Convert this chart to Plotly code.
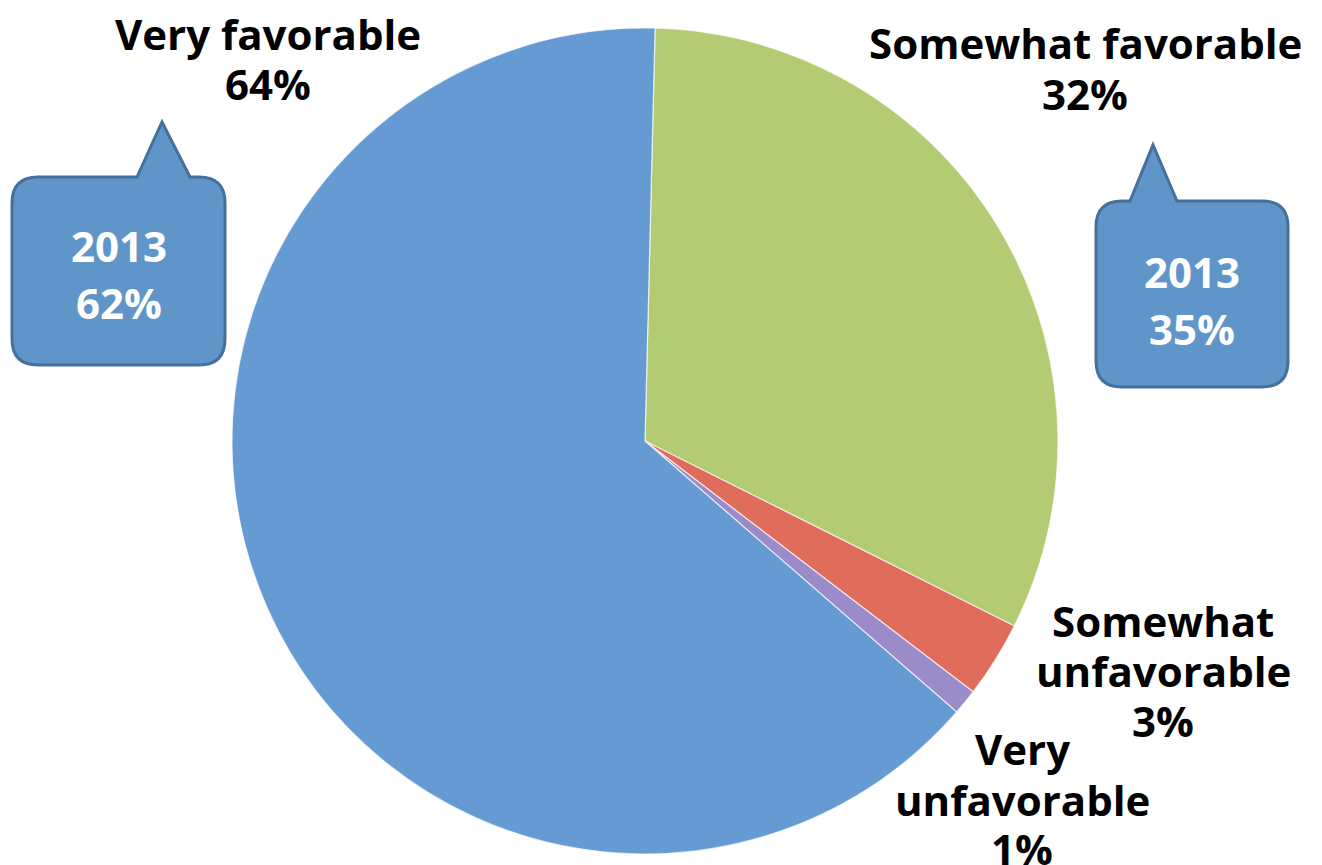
import plotly.graph_objects as go

# Survey results (current year), clockwise from 12 o'clock
categories = ["Somewhat favorable", "Somewhat unfavorable", "Very unfavorable", "Very favorable"]
values = [32, 3, 1, 64]
colors = ["#B3CB73", "#E06C5C", "#9C8BC9", "#659AD2"]

# Prior-year comparison shown in the callouts
prior_year = "2013"
prior_categories = ["Very favorable", "Somewhat favorable"]
prior_values = [62, 35]

W, H = 1322, 865
cx, cy, r = 645, 441, 413

fig = go.Figure()

fig.add_trace(go.Pie(
    labels=categories,
    values=values,
    sort=False,
    direction="clockwise",
    rotation=1.4,
    marker=dict(colors=colors, line=dict(color="rgba(255,255,255,0.7)", width=1.2)),
    textinfo="none",
    hoverinfo="label+percent",
    showlegend=False,
    domain=dict(x=[(cx - r) / W, (cx + r) / W],
                y=[(H - cy - r) / H, (H - cy + r) / H]),
))

FONT = "Open Sans"
FSIZE = 42


def text_block(x, lines, ys, color):
    """Centered multi-line bold text, one annotation per line for tight leading."""
    for line, y in zip(lines, ys):
        fig.add_annotation(
            x=x, y=y, xref="x", yref="y",
            text=f"<b>{line}</b>",
            showarrow=False, font=dict(family=FONT, size=FSIZE, color=color),
            xanchor="center", yanchor="middle",
        )


# Category labels with their percentages
label_pos = {
    "Very favorable": (268, ["Very favorable"], [33, 83]),
    "Somewhat favorable": (1085, ["Somewhat favorable"], [42, 93]),
    "Somewhat unfavorable": (1163, ["Somewhat", "unfavorable"], [620, 670, 720]),
    "Very unfavorable": (1022, ["Very", "unfavorable"], [748, 799, 848]),
}
for cat, val in zip(categories, values):
    x, lines, ys = label_pos[cat]
    text_block(x, lines + [f"{val}%"], ys, "#000000")


def callout_path(x0, y0, x1, y1, rad, bx0, bx1, tipx, tipy):
    """Rounded rectangle with a pointer on its top edge."""
    return (
        f"M {x0 + rad},{y0} L {bx0},{y0} L {tipx},{tipy} L {bx1},{y0} "
        f"L {x1 - rad},{y0} Q {x1},{y0} {x1},{y0 + rad} "
        f"L {x1},{y1 - rad} Q {x1},{y1} {x1 - rad},{y1} "
        f"L {x0 + rad},{y1} Q {x0},{y1} {x0},{y1 - rad} "
        f"L {x0},{y0 + rad} Q {x0},{y0} {x0 + rad},{y0} Z"
    )


callouts = {
    "Very favorable": dict(box=(12, 177, 225, 365), ptr=(137, 190, 162, 122), ys=[245, 302]),
    "Somewhat favorable": dict(box=(1096, 201, 1288, 387), ptr=(1130, 1177, 1153, 145), ys=[271, 328]),
}
for cat, val in zip(prior_categories, prior_values):
    c = callouts[cat]
    x0, y0, x1, y1 = c["box"]
    bx0, bx1, tx, ty = c["ptr"]
    fig.add_shape(
        type="path", xref="x", yref="y",
        path=callout_path(x0, y0, x1, y1, 26, bx0, bx1, tx, ty),
        fillcolor="#5F95C8", line=dict(color="#46709C", width=3),
    )
    text_block((x0 + x1) / 2, [prior_year, f"{val}%"], c["ys"], "#FFFFFF")

fig.update_layout(
    width=W, height=H,
    margin=dict(l=0, r=0, t=0, b=0),
    paper_bgcolor="#FFFFFF", plot_bgcolor="rgba(0,0,0,0)",
    xaxis=dict(range=[0, W], visible=False, fixedrange=True),
    yaxis=dict(range=[H, 0], visible=False, fixedrange=True),
)

fig.write_html("out.html")
